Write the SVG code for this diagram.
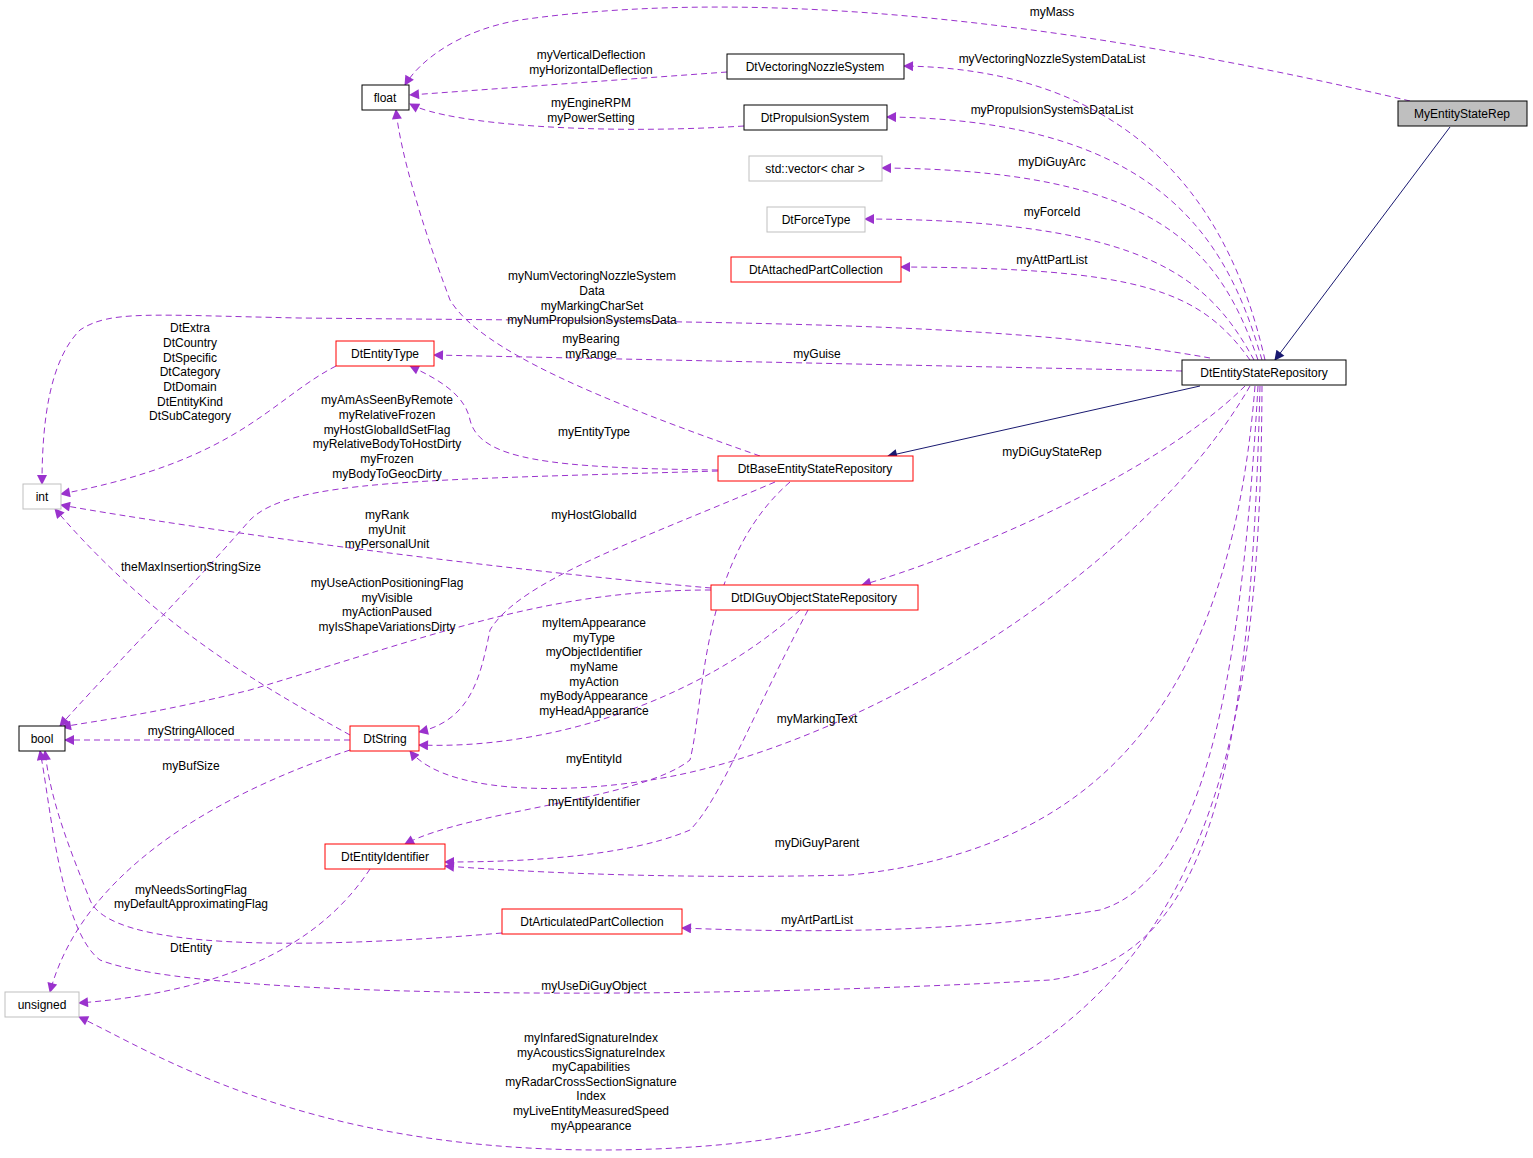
<svg xmlns="http://www.w3.org/2000/svg" width="1533" height="1158" viewBox="0 0 1533 1158">
<style>
text{font-family:"Liberation Sans",Arial,sans-serif;font-size:12px;fill:#000}
.n rect{fill:#fff;stroke-width:1}
.k rect{stroke:#000}.r rect{stroke:#f00}.g rect{stroke:#bfbfbf}
.t{text-anchor:middle}
.e{fill:none;stroke:#9a32cd;stroke-dasharray:6,4;marker-end:url(#a)}
.s{fill:none;stroke:#191970;marker-end:url(#b)}
</style>
<defs>
<marker id="a" viewBox="0 0 10 10" refX="9" refY="5" markerWidth="12" markerHeight="10" markerUnits="userSpaceOnUse" orient="auto"><path d="M0,0L10,5L0,10z" fill="#9a32cd"/></marker>
<marker id="b" viewBox="0 0 10 10" refX="9" refY="5" markerWidth="12" markerHeight="10" markerUnits="userSpaceOnUse" orient="auto"><path d="M0,0L10,5L0,10z" fill="#191970"/></marker>
</defs>
<rect width="1533" height="1158" fill="#fff"/>
<g id="edges">
<path class="e" d="M1410,101 C1150,40 800,-20 520,20 C460,30 420,60 405,85"/>
<path class="s" d="M1450,127 L1275,360"/>
<path class="s" d="M1200,386 L888,456"/>
<path class="e" d="M727,72 L410,95"/>
<path class="e" d="M744,126 C600,135 450,125 410,104"/>
<path class="e" d="M1265,360 C1240,250 1170,70 904,66"/>
<path class="e" d="M1262,360 C1230,250 1170,120 887,117"/>
<path class="e" d="M1258,360 C1220,250 1160,170 882,168"/>
<path class="e" d="M1254,360 C1210,280 1150,220 865,219"/>
<path class="e" d="M1250,360 C1200,290 1140,268 901,267"/>
<path class="e" d="M1210,358 C1000,320 700,322 300,318 C150,315 110,310 80,330 C50,360 42,420 42,484"/>
<path class="e" d="M1182,371 L434,355"/>
<path class="e" d="M718,470 C550,468 480,460 470,420 C465,395 440,380 410,366"/>
<path class="e" d="M336,366 C270,400 240,460 61,494"/>
<path class="e" d="M718,471 C420,480 290,480 250,520 C180,600 100,680 60,726"/>
<path class="e" d="M775,482 C640,540 520,580 490,630 C480,680 470,720 419,732"/>
<path class="e" d="M790,482 C700,560 705,700 690,760 C640,800 470,810 405,844"/>
<path class="e" d="M711,588 C500,570 200,530 61,505"/>
<path class="e" d="M711,590 C550,590 450,630 250,690 C150,715 100,720 62,727"/>
<path class="e" d="M800,610 C700,700 550,750 419,745"/>
<path class="e" d="M808,610 C750,720 720,800 690,830 C620,860 500,862 445,862"/>
<path class="e" d="M1245,386 C1150,480 950,560 862,585"/>
<path class="e" d="M1250,386 C1150,560 900,720 700,770 C600,795 450,800 410,751"/>
<path class="e" d="M1255,386 C1230,700 1100,850 850,875 C650,880 500,870 445,866"/>
<path class="e" d="M350,735 C250,680 150,620 55,509"/>
<path class="e" d="M350,740 L65,740"/>
<path class="e" d="M350,750 C200,800 80,880 50,992"/>
<path class="e" d="M370,869 C330,930 250,990 79,1003"/>
<path class="e" d="M502,933 C300,950 110,950 90,900 C70,850 50,800 45,751"/>
<path class="e" d="M1258,386 C1240,700 1200,880 1100,910 C950,935 780,932 682,928"/>
<path class="e" d="M1260,386 C1250,800 1200,960 1050,980 C700,1000 200,1000 100,960 C60,930 50,800 40,751"/>
<path class="e" d="M1262,386 C1260,800 1200,1150 600,1150 C300,1150 150,1050 79,1017"/>
<path class="e" d="M760,456 C600,400 480,350 450,300 C420,220 400,150 396,110"/>
</g>
<g id="labels" class="t">
<text x="1052" y="16" class="t">myMass</text>
<text x="591" y="59" class="t">myVerticalDeflection</text><text x="591" y="74" class="t">myHorizontalDeflection</text>
<text x="591" y="107" class="t">myEngineRPM</text><text x="591" y="122" class="t">myPowerSetting</text>
<text x="1052" y="63" class="t">myVectoringNozzleSystemDataList</text>
<text x="1052" y="114" class="t">myPropulsionSystemsDataList</text>
<text x="1052" y="166" class="t">myDiGuyArc</text>
<text x="1052" y="216" class="t">myForceId</text>
<text x="1052" y="264" class="t">myAttPartList</text>
<text x="592" y="280" class="t">myNumVectoringNozzleSystem</text><text x="592" y="295" class="t">Data</text><text x="592" y="310" class="t">myMarkingCharSet</text><text x="592" y="324" class="t">myNumPropulsionSystemsData</text>
<text x="591" y="343" class="t">myBearing</text><text x="591" y="358" class="t">myRange</text>
<text x="817" y="358" class="t">myGuise</text>
<text x="594" y="436" class="t">myEntityType</text>
<text x="190" y="332" class="t">DtExtra</text><text x="190" y="347" class="t">DtCountry</text><text x="190" y="362" class="t">DtSpecific</text><text x="190" y="376" class="t">DtCategory</text><text x="190" y="391" class="t">DtDomain</text><text x="190" y="406" class="t">DtEntityKind</text><text x="190" y="420" class="t">DtSubCategory</text>
<text x="387" y="404" class="t">myAmAsSeenByRemote</text><text x="387" y="419" class="t">myRelativeFrozen</text><text x="387" y="434" class="t">myHostGlobalIdSetFlag</text><text x="387" y="448" class="t">myRelativeBodyToHostDirty</text><text x="387" y="463" class="t">myFrozen</text><text x="387" y="478" class="t">myBodyToGeocDirty</text>
<text x="1052" y="456" class="t">myDiGuyStateRep</text>
<text x="594" y="519" class="t">myHostGlobalId</text>
<text x="387" y="519" class="t">myRank</text><text x="387" y="534" class="t">myUnit</text><text x="387" y="548" class="t">myPersonalUnit</text>
<text x="191" y="571" class="t">theMaxInsertionStringSize</text>
<text x="387" y="587" class="t">myUseActionPositioningFlag</text><text x="387" y="602" class="t">myVisible</text><text x="387" y="616" class="t">myActionPaused</text><text x="387" y="631" class="t">myIsShapeVariationsDirty</text>
<text x="594" y="627" class="t">myItemAppearance</text><text x="594" y="642" class="t">myType</text><text x="594" y="656" class="t">myObjectIdentifier</text><text x="594" y="671" class="t">myName</text><text x="594" y="686" class="t">myAction</text><text x="594" y="700" class="t">myBodyAppearance</text><text x="594" y="715" class="t">myHeadAppearance</text>
<text x="817" y="723" class="t">myMarkingText</text>
<text x="191" y="735" class="t">myStringAlloced</text>
<text x="594" y="763" class="t">myEntityId</text>
<text x="191" y="770" class="t">myBufSize</text>
<text x="594" y="806" class="t">myEntityIdentifier</text>
<text x="817" y="847" class="t">myDiGuyParent</text>
<text x="191" y="894" class="t">myNeedsSortingFlag</text><text x="191" y="908" class="t">myDefaultApproximatingFlag</text>
<text x="817" y="924" class="t">myArtPartList</text>
<text x="191" y="952" class="t">DtEntity</text>
<text x="594" y="990" class="t">myUseDiGuyObject</text>
<text x="591" y="1042" class="t">myInfaredSignatureIndex</text><text x="591" y="1057" class="t">myAcousticsSignatureIndex</text><text x="591" y="1071" class="t">myCapabilities</text><text x="591" y="1086" class="t">myRadarCrossSectionSignature</text><text x="591" y="1100" class="t">Index</text><text x="591" y="1115" class="t">myLiveEntityMeasuredSpeed</text><text x="591" y="1130" class="t">myAppearance</text>
</g>
<g id="MyEntityStateRep" class="n k"><rect x="1398" y="101" width="129" height="25" style="fill:#bfbfbf"/><text x="1462" y="118" class="t">MyEntityStateRep</text></g>
<g id="float" class="n k"><rect x="362" y="85" width="47" height="25"/><text x="385" y="102" class="t">float</text></g>
<g id="DtVectoringNozzleSystem" class="n k"><rect x="727" y="54" width="177" height="25"/><text x="815" y="71" class="t">DtVectoringNozzleSystem</text></g>
<g id="DtPropulsionSystem" class="n k"><rect x="744" y="105" width="143" height="25"/><text x="815" y="122" class="t">DtPropulsionSystem</text></g>
<g id="stdvector" class="n g"><rect x="749" y="156" width="133" height="25"/><text x="815" y="173" class="t">std::vector&lt; char &gt;</text></g>
<g id="DtForceType" class="n g"><rect x="767" y="207" width="98" height="25"/><text x="816" y="224" class="t">DtForceType</text></g>
<g id="DtAttachedPartCollection" class="n r"><rect x="731" y="257" width="170" height="25"/><text x="816" y="274" class="t">DtAttachedPartCollection</text></g>
<g id="DtEntityType" class="n r"><rect x="336" y="341" width="98" height="25"/><text x="385" y="358" class="t">DtEntityType</text></g>
<g id="DtEntityStateRepository" class="n k"><rect x="1182" y="360" width="164" height="25"/><text x="1264" y="377" class="t">DtEntityStateRepository</text></g>
<g id="int" class="n g"><rect x="23" y="484" width="38" height="25"/><text x="42" y="501" class="t">int</text></g>
<g id="DtBaseEntityStateRepository" class="n r"><rect x="718" y="456" width="195" height="25"/><text x="815" y="473" class="t">DtBaseEntityStateRepository</text></g>
<g id="DtDIGuyObjectStateRepository" class="n r"><rect x="711" y="585" width="207" height="25"/><text x="814" y="602" class="t">DtDIGuyObjectStateRepository</text></g>
<g id="bool" class="n k"><rect x="19" y="726" width="46" height="25"/><text x="42" y="743" class="t">bool</text></g>
<g id="DtString" class="n r"><rect x="350" y="726" width="69" height="25"/><text x="385" y="743" class="t">DtString</text></g>
<g id="DtEntityIdentifier" class="n r"><rect x="325" y="844" width="120" height="25"/><text x="385" y="861" class="t">DtEntityIdentifier</text></g>
<g id="DtArticulatedPartCollection" class="n r"><rect x="502" y="909" width="180" height="25"/><text x="592" y="926" class="t">DtArticulatedPartCollection</text></g>
<g id="unsigned" class="n g"><rect x="5" y="992" width="74" height="25"/><text x="42" y="1009" class="t">unsigned</text></g>
</svg>
